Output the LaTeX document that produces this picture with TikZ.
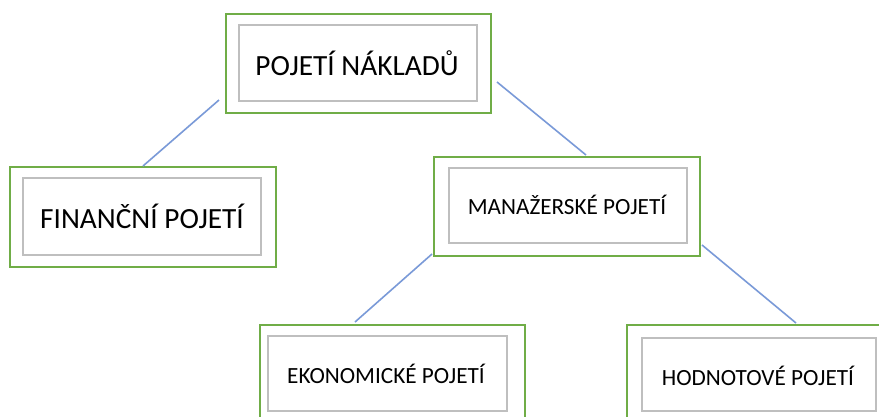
\documentclass[tikz,border=0pt]{standalone}
\usepackage{fontspec}
\setmainfont{Carlito}
\definecolor{boxgreen}{HTML}{70AD47}
\definecolor{boxgray}{HTML}{BFBFBF}
\definecolor{linkblue}{HTML}{7A9AD8}
\tikzset{
  outerbox/.style={draw=boxgreen, line width=1.6pt},
  innerbox/.style={draw=boxgray, line width=1.4pt, fill=white},
  link/.style={draw=linkblue, line width=1.6pt},
  big/.style={font=\fontsize{29.3}{33}\selectfont},
  small/.style={font=\fontsize{23.2}{27}\selectfont},
}
\begin{document}
\begin{tikzpicture}[x=1pt,y=-1pt]
\useasboundingbox (0,0) rectangle (879,416);
\clip (0,0) rectangle (879,416);
\fill[white] (0,0) rectangle (879,416);
% top
\draw[outerbox] (226,14) rectangle (491,113);
\draw[innerbox] (239,25) rectangle (477,101);
\node[big] (top) at (357,63) {POJETÍ NÁKLADŮ};
\coordinate (topL) at (219,100);
\coordinate (topR) at (497,82);
% financni
\draw[outerbox] (10,167) rectangle (276,267);
\draw[innerbox] (23,178) rectangle (261,255);
\node[big] (fin) at (142,216) {FINANČNÍ POJETÍ};
\coordinate (finT) at (143,166);
% manazerske
\draw[outerbox] (434,157) rectangle (700,256);
\draw[innerbox] (449,168) rectangle (687,243);
\node[small] (man) at (567,205) {MANAŽERSKÉ POJETÍ};
\coordinate (manT) at (586,155);
\coordinate (manL) at (432,254);
\coordinate (manR) at (702,245);
% ekonomicke
\draw[outerbox] (260,325) rectangle (525,430);
\draw[innerbox] (268,336) rectangle (507,411);
\node[small] (eko) at (386,374) {EKONOMICKÉ POJETÍ};
\coordinate (ekoT) at (355,322);
% hodnotove
\draw[outerbox] (627,325) rectangle (900,430);
\draw[innerbox] (642,338) rectangle (876,411);
\node[small] (hod) at (758,376) {HODNOTOVÉ POJETÍ};
\coordinate (hodT) at (796,323);
% links
\draw[link] (topL) -- (finT);
\draw[link] (topR) -- (manT);
\draw[link] (manL) -- (ekoT);
\draw[link] (manR) -- (hodT);
\end{tikzpicture}
\end{document}
